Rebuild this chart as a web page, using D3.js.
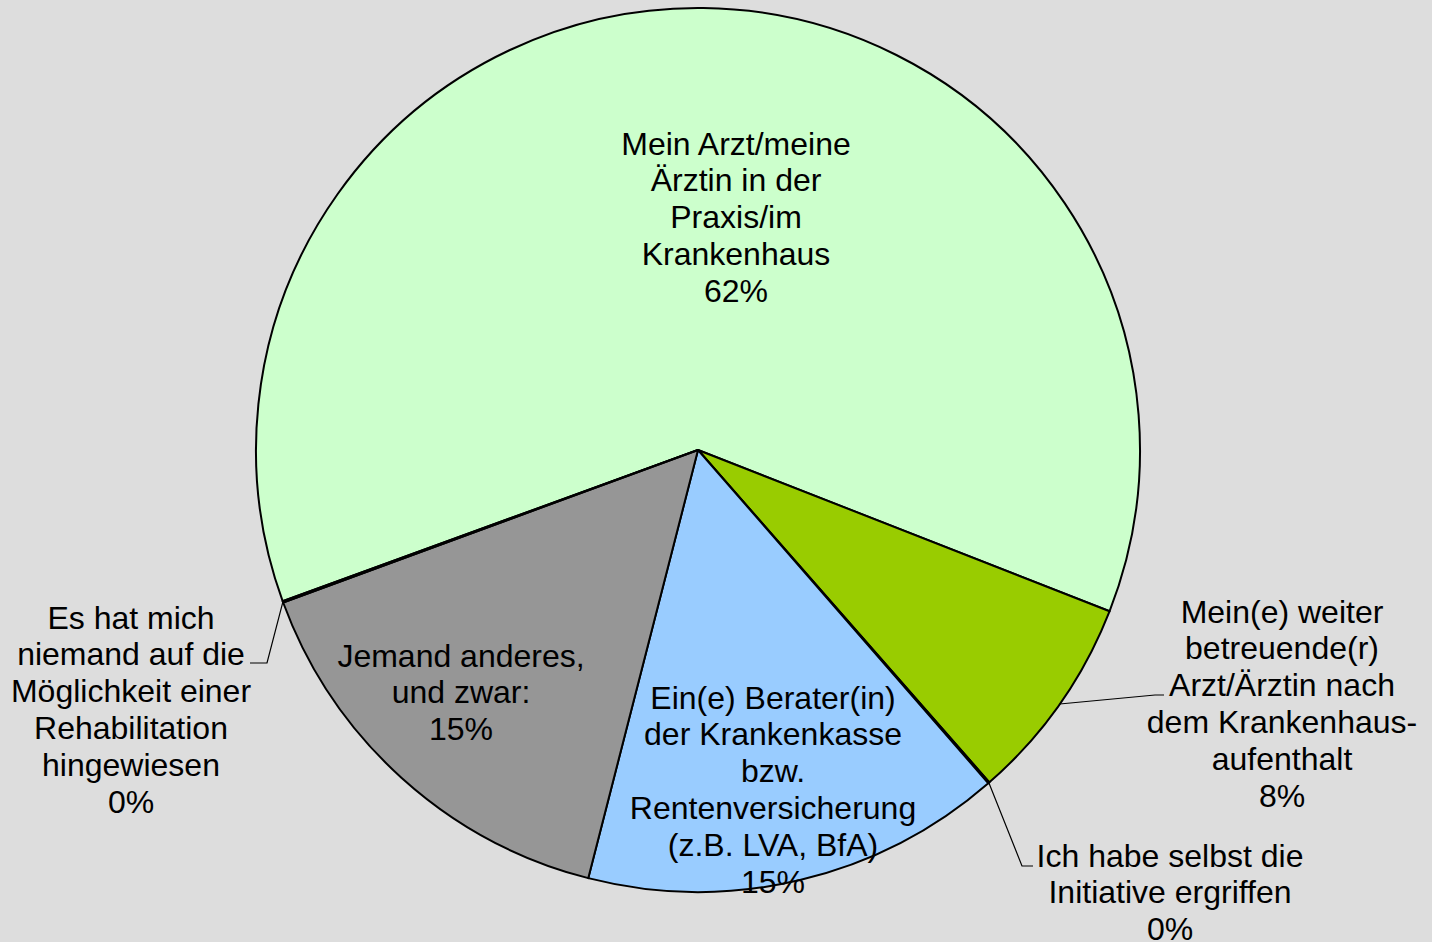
<!DOCTYPE html>
<html>
<head>
<meta charset="utf-8">
<script src="https://cdn.jsdelivr.net/npm/d3@7"></script>
<style>
  html, body { margin: 0; padding: 0; background: #dddddd; }
  svg { display: block; }
</style>
</head>
<body>
<div id="chart"></div>
<script>
// slice data (clockwise order)
var categories = [
  ["Mein Arzt/meine", "Ärztin in der", "Praxis/im", "Krankenhaus"],
  ["Mein(e) weiter", "betreuende(r)", "Arzt/Ärztin nach", "dem Krankenhaus-", "aufenthalt"],
  ["Ich habe selbst die", "Initiative ergriffen"],
  ["Ein(e) Berater(in)", "der Krankenkasse", "bzw.", "Rentenversicherung", "(z.B. LVA, BfA)"],
  ["Jemand anderes,", "und zwar:"],
  ["Es hat mich", "niemand auf die", "Möglichkeit einer", "Rehabilitation", "hingewiesen"]
];
var values = [61.5, 7.6, 0.05, 15.4, 15.4, 0.05];
var pctLabels = ["62%", "8%", "0%", "15%", "15%", "0%"];
var colors = ["#ccffcc", "#99cc00", "#99ccff", "#99ccff", "#969696", "#969696"];

var width = 1432, height = 942;
var cx = 698, cy = 450, radius = 442;
var fontSize = 32, lineH = 36.8;

// label placement, offsets from the pie centre (first line centre)
var labelPos = [
  {dx: 38, dy: -307},
  {dx: 584, dy: 161},
  {dx: 472, dy: 405},
  {dx: 75, dy: 247},
  {dx: -237, dy: 205},
  {dx: -567, dy: 167}
];
// leader lines: elbow and end, offsets from the pie centre (null = none)
var leaders = [
  null,
  {elbow: [457, 245], end: [466, 245]},
  {elbow: [324, 416], end: [335, 416]},
  null,
  null,
  {elbow: [-431, 213], end: [-448, 213]}
];

var svg = d3.select("#chart").append("svg")
  .attr("width", width)
  .attr("height", height);

svg.append("rect")
  .attr("width", width)
  .attr("height", height)
  .attr("fill", "#dddddd");

var g = svg.append("g")
  .attr("transform", `translate(${cx}, ${cy})`);

var pie = d3.pie()
  .sort(null)
  .value(function(d) { return d; })
  .startAngle(250 * Math.PI / 180)
  .endAngle(250 * Math.PI / 180 + 2 * Math.PI);

var arcs = pie(values);

var arc = d3.arc().innerRadius(0).outerRadius(radius);

g.selectAll("path.slice")
  .data(arcs)
  .enter()
  .append("path")
  .attr("class", "slice")
  .attr("d", arc)
  .attr("fill", function(d, i) { return colors[i]; })
  .attr("stroke", "#000")
  .attr("stroke-width", 2)
  .attr("stroke-linejoin", "round");

// leader lines
arcs.forEach(function(d, i) {
  var l = leaders[i];
  if (!l) return;
  var a = (d.startAngle + d.endAngle) / 2;
  var start = [radius * Math.sin(a), -radius * Math.cos(a)];
  g.append("polyline")
    .attr("points", [start, l.elbow, l.end].map(function(p) { return p.join(","); }).join(" "))
    .attr("fill", "none")
    .attr("stroke", "#000")
    .attr("stroke-width", 1.2);
});

// labels
arcs.forEach(function(d, i) {
  var lines = categories[i].concat([pctLabels[i]]);
  var t = g.append("text")
    .attr("text-anchor", "middle")
    .attr("font-family", "Arial, 'Liberation Sans', sans-serif")
    .attr("font-size", fontSize)
    .attr("fill", "#000");
  lines.forEach(function(s, j) {
    t.append("tspan")
      .attr("x", labelPos[i].dx)
      .attr("y", labelPos[i].dy + 11.5 + j * lineH)
      .text(s);
  });
});
</script>
</body>
</html>
